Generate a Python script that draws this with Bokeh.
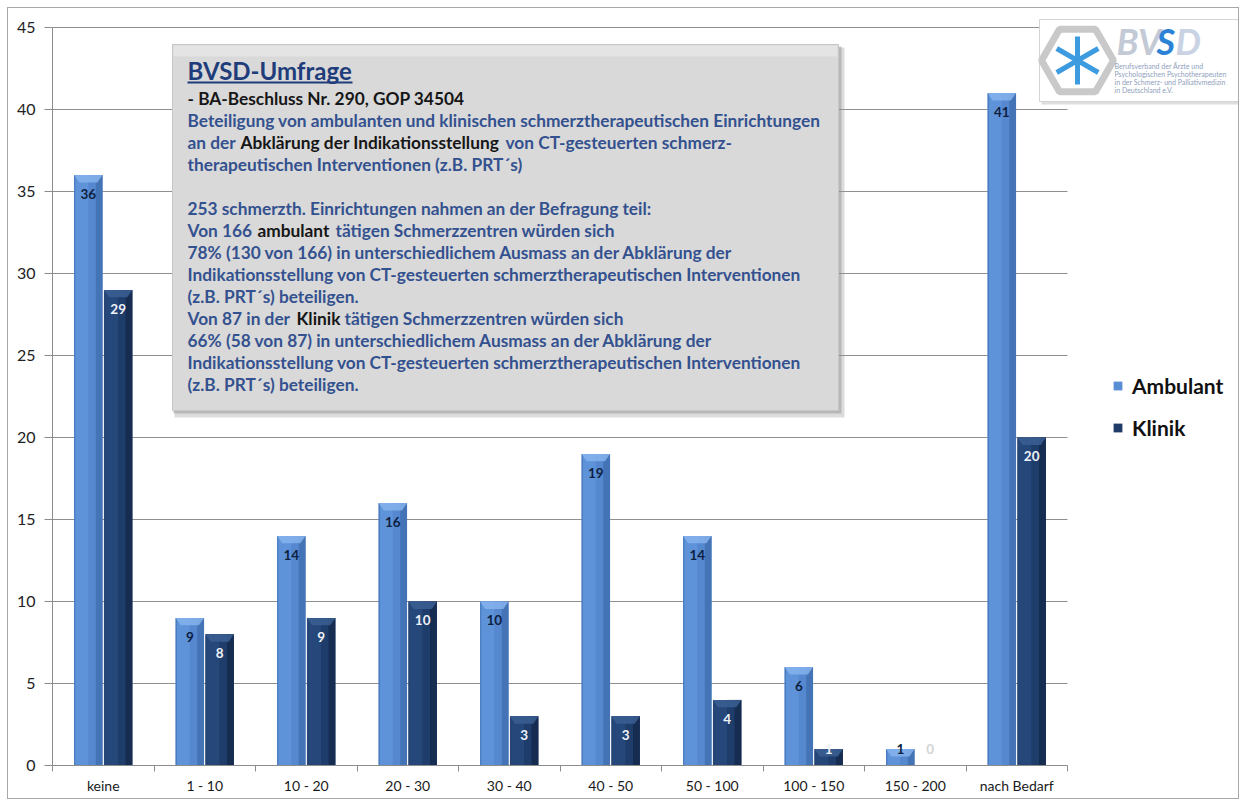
from bokeh.plotting import figure
from bokeh.models import Range1d, FixedTicker, Legend, LegendItem
from bokeh.core.properties import value
from bokeh.embed import file_html
from bokeh.resources import INLINE

# ---------------- data ----------------
categories = ["keine", "1 - 10", "10 - 20", "20 - 30", "30 - 40",
              "40 - 50", "50 - 100", "100 - 150", "150 - 200", "nach Bedarf"]
ambulant = [36, 9, 14, 16, 10, 19, 14, 6, 1, 41]
klinik = [29, 8, 9, 10, 3, 3, 4, 1, 0, 20]
series_names = ["Ambulant", "Klinik"]
y_ticks = [0, 5, 10, 15, 20, 25, 30, 35, 40, 45]

# ---------------- layout helpers (page pixel -> data) ----------------
X0_PX, PX_PER_CAT = 52, 101.5
Y0_PX, PX_PER_UNIT = 765, 16.4


def dx(px):
    return (px - X0_PX) / PX_PER_CAT


def dy(py):
    return (Y0_PX - py) / PX_PER_UNIT


FONT = value("Lato")
W, H = 1232, 792
ML, MT, MB = 44, 8, 35
n = len(categories)
centers = [i + 0.5 for i in range(n)]

p = figure(width=W, height=H, output_backend="svg", toolbar_location=None,
           x_range=Range1d(0, (W - ML) / PX_PER_CAT),
           y_range=Range1d(0, (H - MT - MB) / PX_PER_UNIT),
           min_border_left=ML, min_border_right=0, min_border_top=MT, min_border_bottom=MB)
p.styles = {"margin-left": "7px", "margin-top": "7px", "border": "1px solid #a8a8a8"}
p.outline_line_color = None
p.background_fill_color = "white"
p.border_fill_color = "white"

# axes
p.xaxis.ticker = FixedTicker(ticks=centers, minor_ticks=list(range(n + 1)))
p.xaxis.major_label_overrides = {c: lab for c, lab in zip(centers, categories)}
p.xaxis.bounds = (0, n)
p.xaxis.major_tick_out = 0
p.xaxis.major_tick_in = 0
p.xaxis.minor_tick_out = 6
p.xaxis.minor_tick_in = 0
p.xaxis.minor_tick_line_color = "#8c8c8c"
p.xaxis.axis_line_color = "#8c8c8c"
p.xaxis.major_label_standoff = 5
p.xaxis.major_label_text_font = "Lato"
p.xaxis.major_label_text_font_size = "14px"
p.xaxis.major_label_text_color = "#1a1a1a"

p.yaxis.ticker = FixedTicker(ticks=y_ticks)
p.yaxis.bounds = (0, 45)
p.yaxis.major_tick_out = 8
p.yaxis.major_tick_in = 0
p.yaxis.minor_tick_line_color = None
p.yaxis.axis_line_color = "#8c8c8c"
p.yaxis.major_tick_line_color = "#8c8c8c"
p.yaxis.major_label_standoff = 9
p.yaxis.major_label_text_font = "Lato"
p.yaxis.major_label_text_font_size = "16px"
p.yaxis.major_label_text_color = "#222222"

p.xgrid.visible = False
p.ygrid.ticker = FixedTicker(ticks=y_ticks)
p.ygrid.cross_bounds = (0, n)
p.ygrid.grid_line_color = "#8f8f8f"

# ---------------- bars ----------------
BAR_W = 0.28
OFF = 0.147

amb_style = dict(base="#5a8ed4", bevel="#86b3ec", label="#0e1f3f",
                 strips=[(0.0, 0.05, "#4a7bbf"), (0.05, 0.5, "#5e93d9"),
                         (0.5, 0.76, "#5588cf"), (0.76, 1.0, "#4473b6")])
kl_style = dict(base="#1f3c69", bevel="#3b5f93", label="#eef2f8",
                strips=[(0.0, 0.05, "#2a4676"), (0.05, 0.5, "#25477a"),
                        (0.5, 0.76, "#1f3d6b"), (0.76, 1.0, "#162c51")])


def draw_series(vals, offset, st):
    xs = [c + offset for c in centers]
    base = p.vbar(x=xs, top=vals, width=BAR_W, fill_color=st["base"], line_color=None)
    for a, b, col in st["strips"]:
        sx = [x + ((a + b) / 2 - 0.5) * BAR_W for x in xs]
        p.vbar(x=sx, top=vals, width=(b - a) * BAR_W, fill_color=col, line_color=None)
    # top bevel
    d = 0.45
    pxs, pys = [], []
    for x, v in zip(xs, vals):
        if v <= 0:
            continue
        x0, x1 = x - BAR_W / 2, x + BAR_W / 2
        pxs.append([x0, x1, x1 - 0.18 * BAR_W, x0 + 0.18 * BAR_W])
        pys.append([v, v, v - d, v - d])
    p.patches(pxs, pys, fill_color=st["bevel"], line_color=None, fill_alpha=0.85)
    return xs, base


amb_x, amb_r = draw_series(ambulant, -OFF, amb_style)
kl_x, kl_r = draw_series(klinik, OFF, kl_style)

p.text(x=amb_x, y=[max(v - 1.15, 1.0) for v in ambulant], text=[str(v) for v in ambulant],
       text_font=FONT, text_font_style="bold", text_font_size="13.5px",
       text_color=amb_style["label"], text_align="center", text_baseline="middle")
p.text(x=kl_x, y=[max(v - 1.15, 1.0) for v in klinik], text=[str(v) for v in klinik],
       text_font=FONT, text_font_style="bold", text_font_size="13.5px",
       text_color=[kl_style["label"] if v > 0 else "#d4d4d4" for v in klinik],
       text_align="center", text_baseline="middle")

# ---------------- legend ----------------
legend = Legend(items=[LegendItem(label=series_names[0], renderers=[amb_r]),
                       LegendItem(label=series_names[1], renderers=[kl_r])],
                location=(1060, 325), glyph_width=11, glyph_height=11,
                label_text_font="Lato", label_text_font_style="bold",
                label_text_font_size="21px", label_text_color="#111111",
                label_height=24, spacing=17, padding=0, margin=0, label_standoff=9,
                border_line_color=None, background_fill_alpha=0)
p.add_layout(legend)

# ---------------- info box ----------------
BOX_L, BOX_R, BOX_T, BOX_B = 172, 838, 44, 410
p.quad(left=[dx(BOX_L + 2)], right=[dx(BOX_R + 6)], top=[dy(BOX_T + 3)], bottom=[dy(BOX_B + 7)],
       fill_color="#9c9c9c", fill_alpha=0.35, line_color=None)
p.quad(left=[dx(BOX_L + 1)], right=[dx(BOX_R + 3)], top=[dy(BOX_T + 2)], bottom=[dy(BOX_B + 3)],
       fill_color="#8c8c8c", fill_alpha=0.45, line_color=None)
p.quad(left=[dx(BOX_L)], right=[dx(BOX_R)], top=[dy(BOX_T)], bottom=[dy(BOX_B)],
       fill_color="#d9d9d9", line_color="#c6c6c6", line_width=1)
p.quad(left=[dx(BOX_L + 1)], right=[dx(BOX_R - 1)], top=[dy(BOX_T + 1)], bottom=[dy(BOX_T + 12)],
       fill_color="#e4e4e4", line_color=None)

BLUE = "#34518f"
BLACK = "#161616"
TX = 187
lines = [
    (98, [("- BA-Beschluss Nr. 290, GOP 34504", BLACK, 0)]),
    (120, [("Beteiligung von ambulanten und klinischen schmerztherapeutischen Einrichtungen", BLUE, 0)]),
    (142, [("an der", BLUE, 0), ("Abklärung der Indikationsstellung", BLACK, 53),
           ("von  CT-gesteuerten schmerz-", BLUE, 318)]),
    (164, [("therapeutischen Interventionen (z.B. PRT´s)", BLUE, 0)]),
    (208, [("253 schmerzth. Einrichtungen nahmen an der Befragung teil:", BLUE, 0)]),
    (230, [("Von 166", BLUE, 0), ("ambulant", BLACK, 70), ("tätigen Schmerzzentren würden sich", BLUE, 148)]),
    (252, [("78% (130 von 166) in unterschiedlichem Ausmass an der Abklärung der", BLUE, 0)]),
    (274, [("Indikationsstellung von CT-gesteuerten schmerztherapeutischen Interventionen", BLUE, 0)]),
    (296, [("(z.B. PRT´s) beteiligen.", BLUE, 0)]),
    (318, [("Von 87 in der", BLUE, 0), ("Klinik", BLACK, 109), ("tätigen Schmerzzentren würden sich", BLUE, 157)]),
    (340, [("66% (58 von 87) in unterschiedlichem Ausmass an der Abklärung der", BLUE, 0)]),
    (362, [("Indikationsstellung von CT-gesteuerten schmerztherapeutischen Interventionen", BLUE, 0)]),
    (384, [("(z.B. PRT´s) beteiligen.", BLUE, 0)]),
]
tx, ty, tt, tc = [], [], [], []
for ypx, segs in lines:
    for s, col, off in segs:
        tx.append(dx(TX + off))
        ty.append(dy(ypx))
        tt.append(s)
        tc.append(col)
p.text(x=tx, y=ty, text=tt, text_color=tc, text_font=FONT, text_font_style="bold",
       text_font_size="17.3px", text_align="left", text_baseline="middle")

p.text(x=[dx(TX)], y=[dy(70)], text=["BVSD-Umfrage"], text_color="#1f3d7a", text_font=FONT,
       text_font_style="bold", text_font_size="24px", text_align="left", text_baseline="middle")
p.segment(x0=[dx(TX)], x1=[dx(352)], y0=[dy(82)], y1=[dy(82)], line_color="#1f3d7a", line_width=2)

# ---------------- logo ----------------
p.quad(left=[dx(1041)], right=[dx(1246)], top=[dy(21)], bottom=[dy(104)],
       fill_color="#bdbdbd", fill_alpha=0.5, line_color=None)
p.quad(left=[dx(1039)], right=[dx(1243)], top=[dy(19)], bottom=[dy(101)],
       fill_color="white", line_color="#d4d4d4")
p.scatter(x=[dx(1077)], y=[dy(60)], marker="hex", size=72, fill_color=None,
          line_color="#c9c9c9", line_width=7)
p.ray(x=[dx(1077)] * 6, y=[dy(60)] * 6, length=24, length_units="screen",
      angle=[30, 90, 150, 210, 270, 330], angle_units="deg",
      line_color="#3d9be0", line_width=5)
p.text(x=[dx(1116), dx(1156), dx(1175)], y=[dy(40)] * 3, text=["BV", "S", "D"],
       text_color=["#c3cad6", "#2c83d6", "#c9d3e4"], text_font=FONT,
       text_font_style="bold italic", text_font_size="36px",
       text_align="left", text_baseline="middle")
p.text(x=[dx(1114)] * 4, y=[dy(65), dy(73), dy(81), dy(89)],
       text=["Berufsverband der Ärzte und", "Psychologischen Psychotherapeuten",
             "in der Schmerz- und Palliativmedizin", "in Deutschland e.V."],
       text_color="#8fa0bd", text_font=FONT, text_font_size="7px",
       text_align="left", text_baseline="middle")

open("out.html", "w").write(file_html(p, INLINE))
